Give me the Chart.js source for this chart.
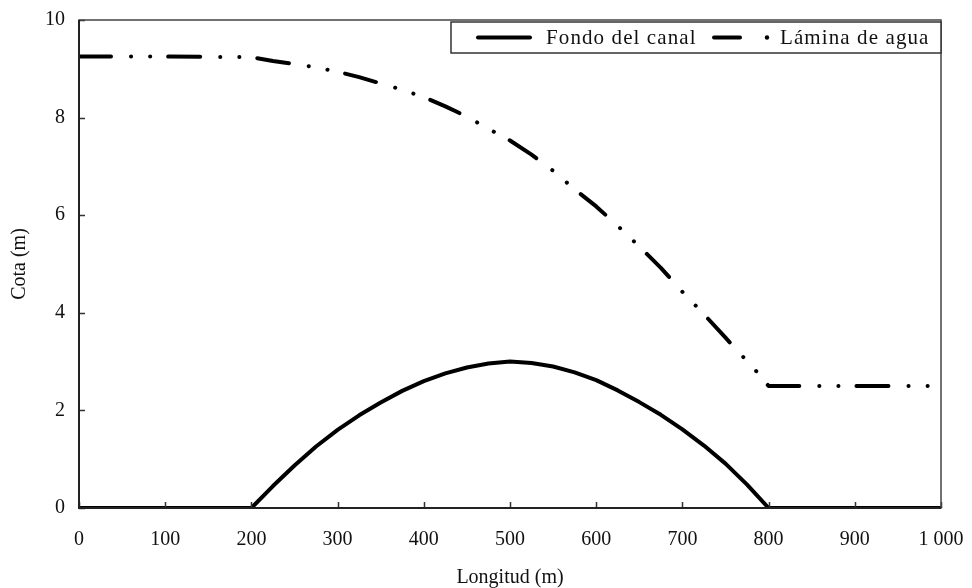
<!DOCTYPE html>
<html>
<head>
<meta charset="utf-8">
<script src="https://cdn.jsdelivr.net/npm/chart.js@4/dist/chart.umd.min.js"></script>
<style>
  html, body { margin: 0; padding: 0; background: #ffffff; }
  #wrap { width: 972px; height: 588px; }
</style>
</head>
<body>
<div id="wrap"><canvas id="c" width="972" height="588"></canvas></div>
<script>
// ---- data ----
const seriesNames = ['Fondo del canal', 'Lámina de agua'];

const fondoX = [0, 100, 200, 225, 250, 275, 300, 325, 350, 375, 400, 425, 450, 475, 500,
                525, 550, 575, 600, 625, 650, 675, 700, 725, 750, 775, 800, 900, 1000];
const fondoY = [0, 0, 0, 0.45, 0.87, 1.26, 1.60, 1.90, 2.16, 2.40, 2.60, 2.76, 2.88, 2.96, 3.00,
                2.97, 2.90, 2.78, 2.62, 2.41, 2.17, 1.91, 1.61, 1.28, 0.91, 0.48, 0, 0, 0];

const aguaX = [0, 100, 200, 225, 250, 275, 300, 325, 350, 375, 400, 425, 450, 475, 500,
               525, 550, 575, 600, 625, 650, 675, 700, 725, 750, 775, 790, 800, 900, 1000];
const aguaY = [9.25, 9.25, 9.24, 9.16, 9.10, 9.03, 8.94, 8.83, 8.70, 8.57, 8.42, 8.23, 8.02, 7.77, 7.53,
               7.24, 6.91, 6.53, 6.18, 5.78, 5.36, 4.92, 4.43, 3.97, 3.49, 3.01, 2.72, 2.5, 2.5, 2.5];

const xTickLabels = ['0', '100', '200', '300', '400', '500', '600', '700', '800', '900', '1 000'];
const yTickLabels = ['0', '2', '4', '6', '8', '10'];

const xTitle = 'Longitud (m)';
const yTitle = 'Cota (m)';

// ---- styling ----
const FONT = "'Liberation Serif', 'Times New Roman', serif";
const INK = '#111111';
const WATER_DASH = [32, 20, 0.1, 19, 0.1, 18];

const toPts = (xs, ys) => xs.map((x, i) => ({ x: x, y: ys[i] }));

const framePlugin = {
  id: 'frame',
  afterDatasetsDraw(chart) {
    const { ctx, chartArea: a, scales } = chart;
    ctx.save();
    // inward ticks
    ctx.strokeStyle = '#333333';
    ctx.lineWidth = 1.5;
    ctx.beginPath();
    scales.x.ticks.forEach(t => {
      const px = Math.round(scales.x.getPixelForValue(t.value)) + 0.5;
      ctx.moveTo(px, a.bottom);
      ctx.lineTo(px, a.bottom - 6);
    });
    scales.y.ticks.forEach(t => {
      const py = Math.round(scales.y.getPixelForValue(t.value)) + 0.5;
      ctx.moveTo(a.left, py);
      ctx.lineTo(a.left + 6, py);
    });
    ctx.stroke();
    // frame
    ctx.lineWidth = 1.5;
    ctx.strokeStyle = '#444444';
    ctx.strokeRect(a.left, a.top, a.right - a.left, a.bottom - a.top);
    ctx.lineWidth = 2;
    ctx.strokeStyle = '#222222';
    ctx.beginPath();
    ctx.moveTo(a.left, a.top);
    ctx.lineTo(a.left, a.bottom);
    ctx.lineTo(a.right, a.bottom);
    ctx.stroke();

    // legend box
    const bw = 490, bh = 31;
    const bx = a.right - bw, by = a.top + 2;
    ctx.fillStyle = '#ffffff';
    ctx.fillRect(bx, by, bw, bh);
    ctx.lineWidth = 1.5;
    ctx.strokeStyle = '#333333';
    ctx.strokeRect(bx, by, bw, bh);
    const cy = by + bh / 2;
    // sample 1: solid
    ctx.strokeStyle = '#000000';
    ctx.lineWidth = 4;
    ctx.lineCap = 'round';
    ctx.setLineDash([]);
    ctx.beginPath();
    ctx.moveTo(bx + 27, cy);
    ctx.lineTo(bx + 79, cy);
    ctx.stroke();
    // sample 2: dash + dot
    ctx.beginPath();
    ctx.moveTo(bx + 263, cy);
    ctx.lineTo(bx + 289, cy);
    ctx.stroke();
    ctx.beginPath();
    ctx.arc(bx + 316, cy, 2.2, 0, Math.PI * 2);
    ctx.fillStyle = '#000000';
    ctx.fill();
    // texts
    ctx.fillStyle = INK;
    ctx.font = "21px " + FONT;
    ctx.textBaseline = 'middle';
    ctx.textAlign = 'left';
    if ('letterSpacing' in ctx) ctx.letterSpacing = '1.1px';
    ctx.fillText(seriesNames[0], bx + 95, cy + 1);
    ctx.fillText(seriesNames[1], bx + 329, cy + 1);
    ctx.restore();
  }
};

new Chart(document.getElementById('c'), {
  type: 'line',
  data: {
    datasets: [
      {
        label: seriesNames[0],
        data: toPts(fondoX, fondoY),
        borderColor: '#000000',
        borderWidth: 4,
        pointRadius: 0,
        tension: 0,
        borderCapStyle: 'butt',
        borderJoinStyle: 'round',
        fill: false
      },
      {
        label: seriesNames[1],
        data: toPts(aguaX, aguaY),
        borderColor: '#000000',
        borderWidth: 4,
        pointRadius: 0,
        tension: 0,
        borderDash: WATER_DASH,
        borderCapStyle: 'round',
        borderJoinStyle: 'round',
        fill: false
      }
    ]
  },
  options: {
    responsive: false,
    animation: false,
    devicePixelRatio: 1,
    layout: { padding: { top: 20, right: 31, left: 0, bottom: 0 } },
    plugins: {
      legend: { display: false },
      tooltip: { enabled: false }
    },
    scales: {
      x: {
        type: 'linear',
        min: 0,
        max: 1000,
        afterFit(scale) { scale.height = 80; scale.paddingLeft = 0; scale.paddingRight = 0; },
        grid: { display: false, drawTicks: false },
        border: { display: false },
        ticks: {
          stepSize: 100,
          padding: 20,
          color: INK,
          font: { family: FONT, size: 20 },
          maxRotation: 0,
          autoSkip: false,
          callback: (v, i) => xTickLabels[i]
        },
        title: {
          display: true,
          text: xTitle,
          color: INK,
          font: { family: FONT, size: 20 },
          padding: { top: 0, bottom: -2 }
        }
      },
      y: {
        type: 'linear',
        min: 0,
        max: 10,
        afterFit(scale) { scale.width = 79; scale.paddingTop = 0; scale.paddingBottom = 0; },
        grid: { display: false, drawTicks: false },
        border: { display: false },
        ticks: {
          stepSize: 2,
          padding: 14,
          color: INK,
          font: { family: FONT, size: 20 },
          callback: (v, i) => yTickLabels[i]
        },
        title: {
          display: true,
          text: yTitle,
          color: INK,
          font: { family: FONT, size: 20 },
          padding: { top: 8, bottom: 0 }
        }
      }
    }
  },
  plugins: [framePlugin]
});
</script>
</body>
</html>
